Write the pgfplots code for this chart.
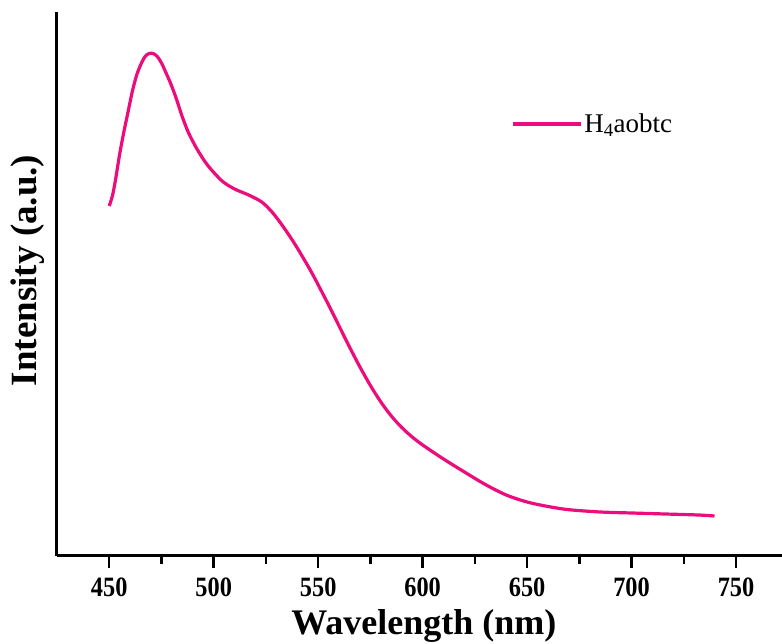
\documentclass[border=0pt]{standalone}
\usepackage{fontspec}
\setmainfont{Liberation Serif}
\usepackage{graphicx}
\usepackage{pgfplots}
\pgfplotsset{compat=1.18}
\definecolor{curvepink}{RGB}{236,12,124}

\begin{document}
\begin{tikzpicture}
\begin{axis}[
  at={(0,0)}, anchor=south west,
  scale only axis,
  width=725pt, height=544pt,
  xmin=425, xmax=772,
  ymin=0, ymax=544,
  axis x line*=bottom,
  axis y line*=left,
  axis line style={line width=3pt},
  xtick={450,500,...,750},
  minor xtick={475,525,...,725},
  ytick=\empty,
  tick align=outside,
  major tick length=12pt,
  minor tick length=8pt,
  every tick/.style={black, line width=2.5pt},
  /pgf/number format/assume math mode=true,
  xticklabel={\scalebox{0.87}[1]{\pgfmathprintnumber{\tick}}},
  xticklabel style={font=\fontsize{28}{30}\selectfont\bfseries, yshift=-6pt},
  xlabel={Wavelength (nm)},
  ylabel={Intensity (a.u.)},
  xlabel style={font=\fontsize{36}{40}\selectfont\bfseries, at={(axis description cs:0.506,-0.129)}, anchor=center},
  ylabel style={font=\fontsize{37}{40}\selectfont\bfseries, at={(axis description cs:-0.0407,0.525)}, anchor=center},
  legend style={draw=none, fill=none, inner sep=0pt, at={(axis description cs:0.626,0.794)}, anchor=west,
    font=\fontsize{27}{29}\selectfont, legend cell align=left},
  legend image code/.code={\draw[#1] (0pt,0pt) -- (68pt,0pt);},
]
\addplot[curvepink, line width=3.2pt, smooth] coordinates {
  (450,350) (451.5,360) (453,376) (455,402) (457,424) (459,444)
  (461,464) (463,480) (465,491) (467,499) (469,502.5) (471,502.5)
  (473,499.5) (475,493) (477,484) (479.5,472) (482,458) (485,439)
  (488,423) (492,407) (497,391) (504,375) (510,367) (516.7,361)
  (523,354) (527.9,344) (532,333) (536,321) (540,308) (547,283)
  (555,251) (560,230) (565,209) (570,189) (575,170.5) (580,154)
  (585,140) (590,128.5) (595,119) (600,111) (610,97) (620,84)
  (630,71.5) (640,61) (650,54) (660,49.5) (670,46.3) (685,44)
  (700,43) (716,42) (732,41) (739.7,40)
};
\addlegendentry{H\textsubscript{4}aobtc}
\end{axis}
\pgfresetboundingbox
\useasboundingbox (-57pt,-88pt) rectangle (725pt,556pt);
\end{tikzpicture}
\end{document}
